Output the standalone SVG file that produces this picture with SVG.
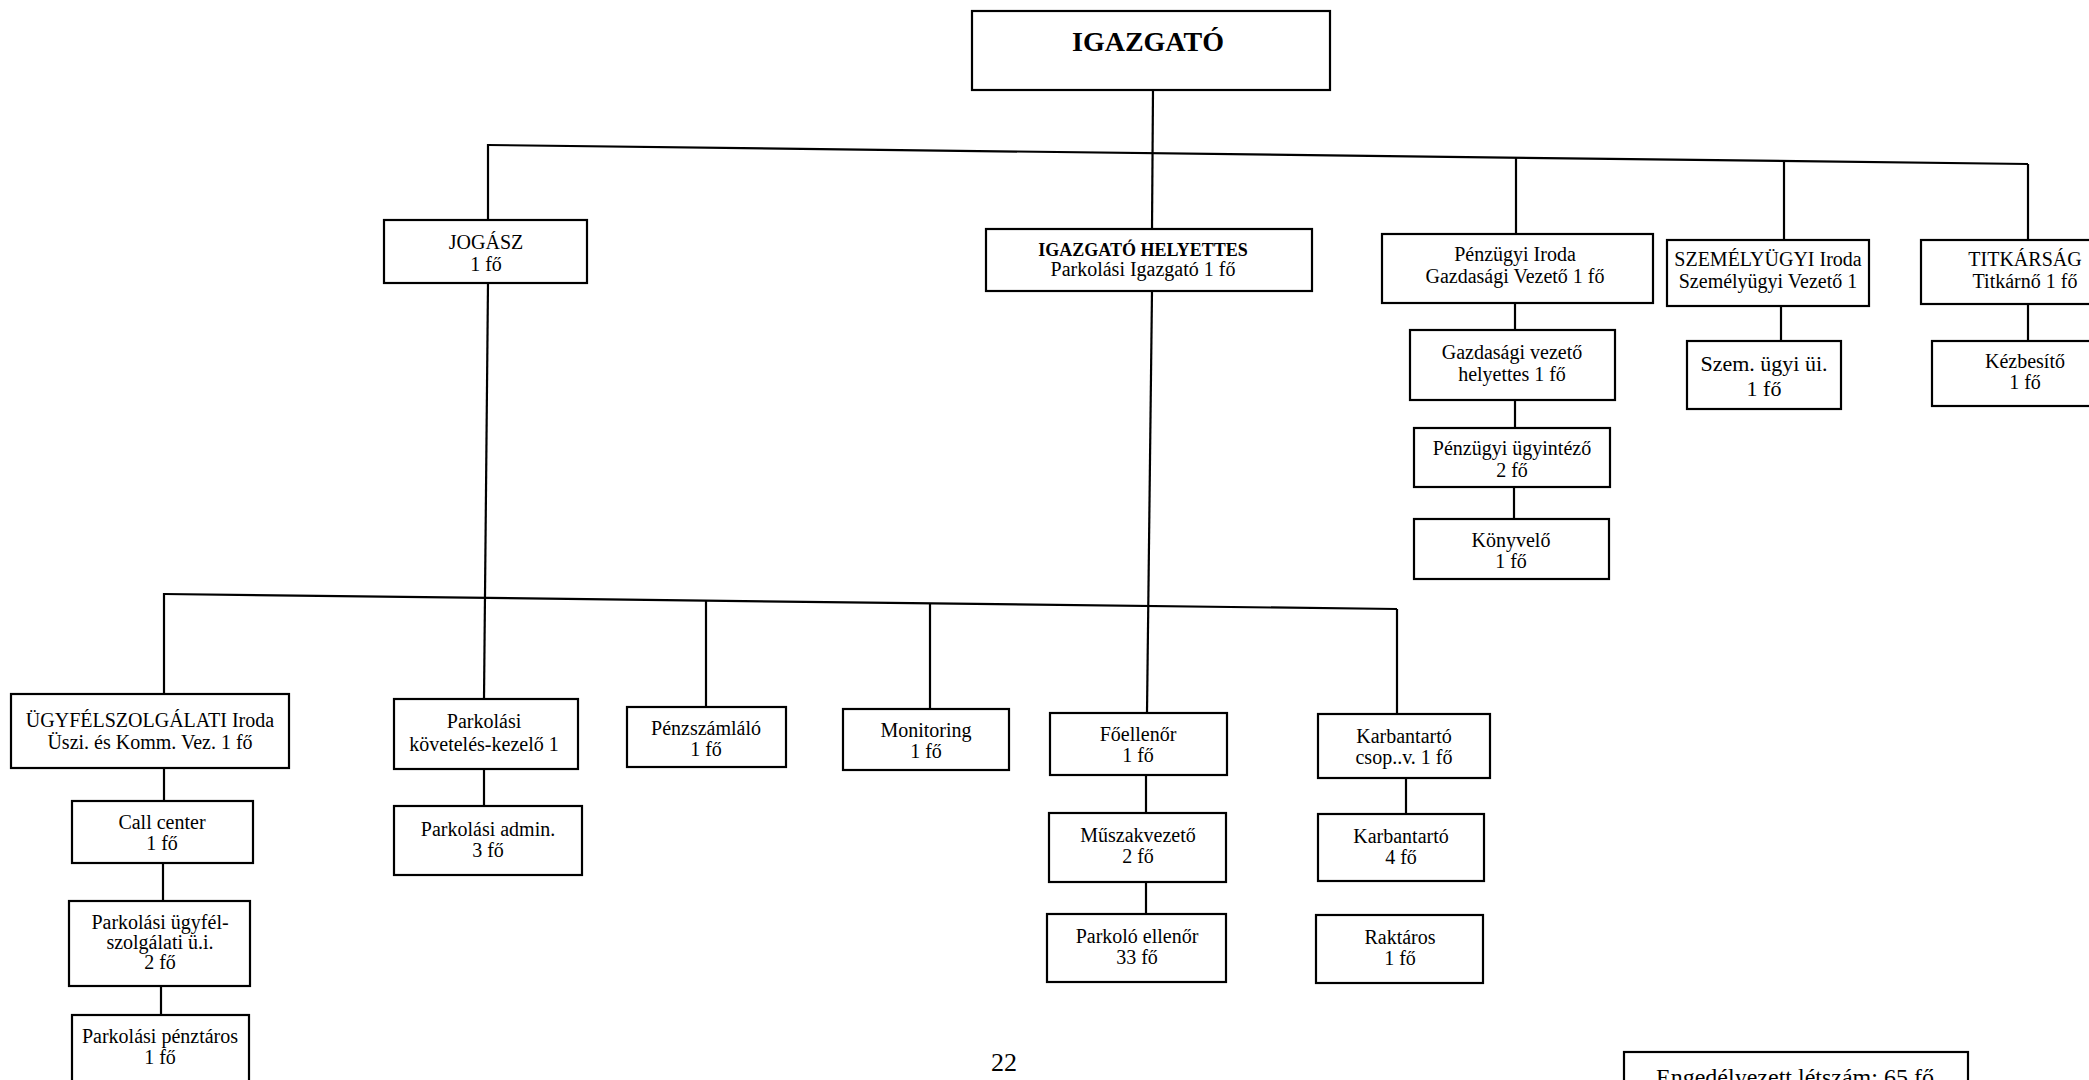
<svg xmlns="http://www.w3.org/2000/svg" width="2089" height="1080" viewBox="0 0 2089 1080">
<style>
  .box { fill: #fff; stroke: #000; stroke-width: 2.2; }
  .t { font-family: "Liberation Serif", "Times New Roman", serif; font-size: 20px; fill: #000; text-anchor: middle; }
  .b { font-weight: bold; }
  .big { font-size: 22px; }
  #connectors line { stroke: #000; stroke-width: 2.2; }
</style>
<rect x="0" y="0" width="2089" height="1080" fill="#fff"/>
<g id="connectors">
  <line x1="1153" y1="90" x2="1152" y2="229"/>
  <line x1="488" y1="145" x2="2028" y2="164"/>
  <line x1="488" y1="144" x2="488" y2="220"/>
  <line x1="1516" y1="157" x2="1516" y2="234"/>
  <line x1="1784" y1="161" x2="1784" y2="240"/>
  <line x1="2028" y1="164" x2="2028" y2="240"/>
  <line x1="1515" y1="303" x2="1515" y2="330"/>
  <line x1="1515" y1="400" x2="1515" y2="428"/>
  <line x1="1514" y1="487" x2="1514" y2="519"/>
  <line x1="1781" y1="306" x2="1781" y2="341"/>
  <line x1="2028" y1="304" x2="2028" y2="341"/>
  <line x1="488" y1="283" x2="484" y2="699"/>
  <line x1="1152" y1="291" x2="1147" y2="713"/>
  <line x1="164" y1="594" x2="1397" y2="609"/>
  <line x1="164" y1="593" x2="164" y2="694"/>
  <line x1="706" y1="600" x2="706" y2="707"/>
  <line x1="930" y1="603" x2="930" y2="709"/>
  <line x1="1397" y1="609" x2="1397" y2="714"/>
  <line x1="164" y1="768" x2="164" y2="801"/>
  <line x1="163" y1="863" x2="163" y2="901"/>
  <line x1="161" y1="986" x2="161" y2="1015"/>
  <line x1="484" y1="769" x2="484" y2="806"/>
  <line x1="1146" y1="775" x2="1146" y2="813"/>
  <line x1="1146" y1="882" x2="1146" y2="914"/>
  <line x1="1406" y1="778" x2="1406" y2="814"/>
</g>
<g id="n-igazgato"><rect class="box" x="972" y="11" width="358" height="79"/><text class="t b" x="1148" y="51" style="font-size:28px">IGAZGATÓ</text></g>
<g id="n-jogasz"><rect class="box" x="384" y="220" width="203" height="63"/><text class="t" x="486" y="249">JOGÁSZ</text><text class="t" x="486" y="271">1 fő</text></g>
<g id="n-helyettes"><rect class="box" x="986" y="229" width="326" height="62"/><text class="t b" x="1143" y="256" style="font-size:18px">IGAZGATÓ HELYETTES</text><text class="t" x="1143" y="276">Parkolási Igazgató 1 fő</text></g>
<g id="n-penzugyi"><rect class="box" x="1382" y="234" width="271" height="69"/><text class="t" x="1515" y="261">Pénzügyi Iroda</text><text class="t" x="1515" y="283">Gazdasági Vezető 1 fő</text></g>
<g id="n-szemelyugyi"><rect class="box" x="1667" y="240" width="202" height="66"/><text class="t" x="1768" y="266">SZEMÉLYÜGYI Iroda</text><text class="t" x="1768" y="288">Személyügyi Vezető 1</text></g>
<g id="n-titkarsag"><rect class="box" x="1921" y="240" width="190" height="64"/><text class="t" x="2025" y="266">TITKÁRSÁG</text><text class="t" x="2025" y="288">Titkárnő 1 fő</text></g>
<g id="n-gvh"><rect class="box" x="1410" y="330" width="205" height="70"/><text class="t" x="1512" y="359">Gazdasági vezető</text><text class="t" x="1512" y="381">helyettes 1 fő</text></g>
<g id="n-pu"><rect class="box" x="1414" y="428" width="196" height="59"/><text class="t" x="1512" y="455">Pénzügyi ügyintéző</text><text class="t" x="1512" y="477">2 fő</text></g>
<g id="n-konyvelo"><rect class="box" x="1414" y="519" width="195" height="60"/><text class="t" x="1511" y="547">Könyvelő</text><text class="t" x="1511" y="568">1 fő</text></g>
<g id="n-szemugyi"><rect class="box" x="1687" y="341" width="154" height="68"/><text class="t big" x="1764" y="371">Szem. ügyi üi.</text><text class="t big" x="1764" y="396">1 fő</text></g>
<g id="n-kezbesito"><rect class="box" x="1932" y="341" width="180" height="65"/><text class="t" x="2025" y="368">Kézbesítő</text><text class="t" x="2025" y="389">1 fő</text></g>
<g id="n-ugyfel"><rect class="box" x="11" y="694" width="278" height="74"/><text class="t" x="150" y="727">ÜGYFÉLSZOLGÁLATI Iroda</text><text class="t" x="150" y="749">Üszi. és Komm. Vez. 1 fő</text></g>
<g id="n-kovetel"><rect class="box" x="394" y="699" width="184" height="70"/><text class="t" x="484" y="728">Parkolási</text><text class="t" x="484" y="751">követelés-kezelő 1</text></g>
<g id="n-penzszamlalo"><rect class="box" x="627" y="707" width="159" height="60"/><text class="t" x="706" y="735">Pénzszámláló</text><text class="t" x="706" y="756">1 fő</text></g>
<g id="n-monitoring"><rect class="box" x="843" y="709" width="166" height="61"/><text class="t" x="926" y="737">Monitoring</text><text class="t" x="926" y="758">1 fő</text></g>
<g id="n-foellenor"><rect class="box" x="1050" y="713" width="177" height="62"/><text class="t" x="1138" y="741">Főellenőr</text><text class="t" x="1138" y="762">1 fő</text></g>
<g id="n-karbcsop"><rect class="box" x="1318" y="714" width="172" height="64"/><text class="t" x="1404" y="743">Karbantartó</text><text class="t" x="1404" y="764">csop..v. 1 fő</text></g>
<g id="n-callcenter"><rect class="box" x="72" y="801" width="181" height="62"/><text class="t" x="162" y="829">Call center</text><text class="t" x="162" y="850">1 fő</text></g>
<g id="n-pusz"><rect class="box" x="69" y="901" width="181" height="85"/><text class="t" x="160" y="929">Parkolási ügyfél-</text><text class="t" x="160" y="949">szolgálati ü.i.</text><text class="t" x="160" y="969">2 fő</text></g>
<g id="n-penztaros"><rect class="box" x="72" y="1015" width="177" height="80"/><text class="t" x="160" y="1043">Parkolási pénztáros</text><text class="t" x="160" y="1064">1 fő</text></g>
<g id="n-admin"><rect class="box" x="394" y="806" width="188" height="69"/><text class="t" x="488" y="836">Parkolási admin.</text><text class="t" x="488" y="857">3 fő</text></g>
<g id="n-muszak"><rect class="box" x="1049" y="813" width="177" height="69"/><text class="t" x="1138" y="842">Műszakvezető</text><text class="t" x="1138" y="863">2 fő</text></g>
<g id="n-parkoloell"><rect class="box" x="1047" y="914" width="179" height="68"/><text class="t" x="1137" y="943">Parkoló ellenőr</text><text class="t" x="1137" y="964">33 fő</text></g>
<g id="n-karbantarto"><rect class="box" x="1318" y="814" width="166" height="67"/><text class="t" x="1401" y="843">Karbantartó</text><text class="t" x="1401" y="864">4 fő</text></g>
<g id="n-raktaros"><rect class="box" x="1316" y="915" width="167" height="68"/><text class="t" x="1400" y="944">Raktáros</text><text class="t" x="1400" y="965">1 fő</text></g>
<g id="n-letszam"><rect class="box" x="1624" y="1052" width="344" height="50"/><text class="t" x="1795" y="1085" style="font-size:24px">Engedélyezett létszám: 65 fő</text></g>
<text class="t" x="1004" y="1071" style="font-size:26px">22</text>
</svg>
